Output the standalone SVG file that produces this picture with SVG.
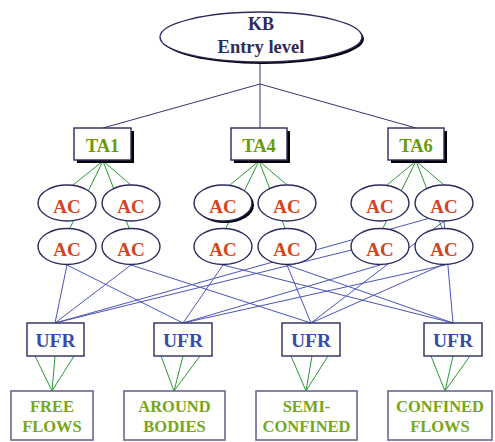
<svg xmlns="http://www.w3.org/2000/svg" width="495" height="442" viewBox="0 0 495 442">
  <style>
    .bold { font-family: "Liberation Serif", "Times New Roman", "DejaVu Serif", serif; font-weight: bold; text-anchor: middle; }
    .kb { fill: #2e2b5c; }
    .ta { fill: #6a9a0c; font-size: 18.5px; }
    .ac { fill: #d5441c; font-size: 19px; }
    .ufr { fill: #3a4aa8; font-size: 19.5px; }
    .leaf { fill: #76a61a; font-size: 16.5px; }
    .node { fill: #ffffff; stroke: #2d2a5e; stroke-width: 1.4; }
    .leafbox { fill: #ffffff; stroke: #6a6690; stroke-width: 1.6; }
    .shadow { fill: #000000; }
    .top { stroke: #3a3470; stroke-width: 1; fill: none; }
    .green { stroke: #2a9a32; stroke-width: 1; fill: none; }
    .blue { stroke: #4a55b8; stroke-width: 1; fill: none; }
  </style>

  <!-- connectors -->
  <g id="connectors">
    <!-- KB to technical areas -->
    <path class="top" d="M260 62 V84 L103 128 M260 84 V128 M260 84 L416 128"/>
    <!-- technical areas to their ACs -->
    <path class="green" d="M103 161 L73 185 M103 161 L70 228 M103 161 L129 228 M103 161 L131 185"/>
    <path class="green" d="M259 161 L230 185 M259 161 L226 228 M259 161 L285 228 M259 161 L287 185"/>
    <path class="green" d="M416 161 L387 185 M416 161 L383 228 M416 161 L442 228 M416 161 L444 185"/>
    <!-- ACs to UFRs -->
    <path class="blue" d="M55 323 L67 265 M55 323 L131 265 M55 323 L430 218 M55 323 L380 243"/>
    <path class="blue" d="M183 323 L67 265 M183 323 L223 265 M183 323 L445 265 M183 323 L380 265"/>
    <path class="blue" d="M311 323 L131 265 M311 323 L287 265 M311 323 L444 221 M311 323 L442 265"/>
    <path class="blue" d="M453 323 L223 265 M453 323 L287 265 M453 323 L444 221"/>
    <!-- UFRs to flow classes -->
    <path class="green" d="M35 356 L52 391 M55 356 L52 391 M74 356 L52 391"/>
    <path class="green" d="M161 356 L174 391 M183 356 L174 391 M200 356 L174 391"/>
    <path class="green" d="M291 356 L306 391 M312 356 L306 391 M328 356 L306 391"/>
    <path class="green" d="M431 356 L445 391 M453 356 L445 391 M470 356 L445 391"/>
  </g>

  <!-- knowledge base entry -->
  <g id="kb">
    <ellipse class="shadow" cx="263" cy="39" rx="101" ry="25"/>
    <ellipse class="node" cx="261" cy="37" rx="101" ry="25"/>
    <text class="bold kb" x="261" y="29.5" font-size="18">KB</text>
    <text class="bold kb" x="261" y="53" font-size="18.5">Entry level</text>
  </g>

  <!-- technical areas -->
  <g id="ta1">
    <rect class="shadow" x="77" y="131" width="57" height="32"/>
    <rect class="node" x="74" y="128" width="57" height="32"/>
    <text class="bold ta" x="102.5" y="152">TA1</text>
  </g>
  <g id="ta4">
    <rect class="shadow" x="234" y="131" width="56" height="32"/>
    <rect class="node" x="231" y="128" width="56" height="32"/>
    <text class="bold ta" x="259" y="152">TA4</text>
  </g>
  <g id="ta6">
    <rect class="shadow" x="391" y="131" width="56" height="32"/>
    <rect class="node" x="388" y="128" width="56" height="32"/>
    <text class="bold ta" x="416" y="152">TA6</text>
  </g>

  <!-- application challenges, upper row -->
  <g id="ac1a"><ellipse class="node" cx="67" cy="203" rx="29" ry="18"/><text class="bold ac" x="67" y="213">AC</text></g>
  <g id="ac2a"><ellipse class="node" cx="131" cy="203" rx="29" ry="18"/><text class="bold ac" x="131" y="213">AC</text></g>
  <g id="ac3a">
    <ellipse class="shadow" cx="225" cy="205" rx="29" ry="18"/>
    <ellipse class="node" cx="223" cy="203" rx="29" ry="18"/><text class="bold ac" x="223" y="213">AC</text>
  </g>
  <g id="ac4a"><ellipse class="node" cx="287" cy="203" rx="29" ry="18"/><text class="bold ac" x="287" y="213">AC</text></g>
  <g id="ac5a"><ellipse class="node" cx="380" cy="203" rx="29" ry="18"/><text class="bold ac" x="380" y="213">AC</text></g>
  <g id="ac6a"><ellipse class="node" cx="444" cy="203" rx="29" ry="18"/><text class="bold ac" x="444" y="213">AC</text></g>

  <!-- application challenges, lower row -->
  <g id="ac1b"><ellipse class="node" cx="67" cy="246.5" rx="29" ry="18"/><text class="bold ac" x="67" y="256">AC</text></g>
  <g id="ac2b"><ellipse class="node" cx="131" cy="246.5" rx="29" ry="18"/><text class="bold ac" x="131" y="256">AC</text></g>
  <g id="ac3b"><ellipse class="node" cx="223" cy="246.5" rx="29" ry="18"/><text class="bold ac" x="223" y="256">AC</text></g>
  <g id="ac4b"><ellipse class="node" cx="287" cy="246.5" rx="29" ry="18"/><text class="bold ac" x="287" y="256">AC</text></g>
  <g id="ac5b"><ellipse class="node" cx="380" cy="246.5" rx="29" ry="18"/><text class="bold ac" x="380" y="256">AC</text></g>
  <g id="ac6b"><ellipse class="node" cx="444" cy="246.5" rx="29" ry="18"/><text class="bold ac" x="444" y="256">AC</text></g>

  <!-- underlying flow regimes -->
  <g id="ufr1"><rect class="node" x="27" y="323" width="57" height="33"/><text class="bold ufr" x="55.5" y="347">UFR</text></g>
  <g id="ufr2"><rect class="node" x="154" y="323" width="58" height="33"/><text class="bold ufr" x="183" y="347">UFR</text></g>
  <g id="ufr3"><rect class="node" x="282" y="323" width="58" height="33"/><text class="bold ufr" x="311" y="347">UFR</text></g>
  <g id="ufr4"><rect class="node" x="424" y="323" width="58" height="33"/><text class="bold ufr" x="453" y="347">UFR</text></g>

  <!-- flow classes -->
  <g id="free-flows">
    <rect class="leafbox" x="11" y="391" width="82" height="49"/>
    <text class="bold leaf" x="52" y="412">FREE</text>
    <text class="bold leaf" x="52" y="432">FLOWS</text>
  </g>
  <g id="around-bodies">
    <rect class="leafbox" x="124" y="391" width="101" height="49"/>
    <text class="bold leaf" x="174.5" y="412">AROUND</text>
    <text class="bold leaf" x="174.5" y="432">BODIES</text>
  </g>
  <g id="semi-confined">
    <rect class="leafbox" x="256" y="391" width="101" height="49"/>
    <text class="bold leaf" x="306.5" y="412">SEMI-</text>
    <text class="bold leaf" x="306.5" y="432">CONFINED</text>
  </g>
  <g id="confined-flows">
    <rect class="leafbox" x="388" y="391" width="104" height="49"/>
    <text class="bold leaf" x="440" y="412">CONFINED</text>
    <text class="bold leaf" x="440" y="432">FLOWS</text>
  </g>
</svg>
